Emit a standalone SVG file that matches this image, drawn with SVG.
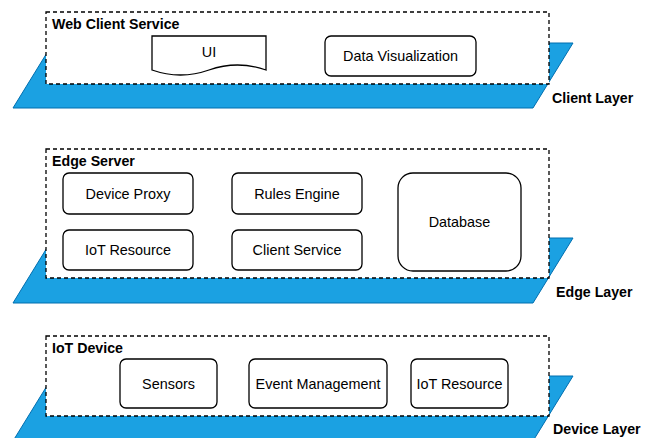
<svg xmlns="http://www.w3.org/2000/svg" width="655" height="438" viewBox="0 0 655 438">
  <style>
    .layer { fill: #1ba1e2; stroke: #006eaf; stroke-width: 1; }
    .group { fill: #ffffff; stroke: #000000; stroke-width: 1.3; stroke-dasharray: 4 3; }
    .node { fill: #ffffff; stroke: #000000; stroke-width: 1.3; }
    .label { font-family: "Liberation Sans", Arial, sans-serif; font-size: 14.4px; fill: #000000; text-anchor: middle; dominant-baseline: central; }
    .title { font-family: "Liberation Sans", Arial, sans-serif; font-size: 14.2px; font-weight: bold; fill: #000000; }
  </style>
  <rect width="655" height="438" fill="#ffffff"/>

  <!-- Client layer -->
  <g id="client-layer">
    <polygon class="layer" points="53,43 573,43 533,108 13,108"/>
    <text class="title" x="552" y="103">Client Layer</text>
  </g>
  <g id="web-client-service">
    <rect class="group" x="46" y="12" width="503" height="72"/>
    <text class="title" x="52" y="29">Web Client Service</text>
  </g>
  <g id="ui">
    <path class="node" d="M152,36 H266 V70 Q237.5,60 209,70 Q180.5,80 152,70 Z"/>
    <text class="label" x="209" y="52">UI</text>
  </g>
  <g id="data-visualization">
    <rect class="node" x="325" y="36" width="151" height="40" rx="6"/>
    <text class="label" x="400.5" y="56">Data Visualization</text>
  </g>

  <!-- Edge layer -->
  <g id="edge-layer">
    <polygon class="layer" points="53,238 573,238 533,303 13,303"/>
    <text class="title" x="556" y="297">Edge Layer</text>
  </g>
  <g id="edge-server">
    <rect class="group" x="46" y="149" width="503" height="129"/>
    <text class="title" x="52" y="166">Edge Server</text>
  </g>
  <g id="device-proxy">
    <rect class="node" x="63" y="173" width="130" height="41" rx="6"/>
    <text class="label" x="128" y="193.5">Device Proxy</text>
  </g>
  <g id="edge-iot-resource">
    <rect class="node" x="63" y="230" width="130" height="40" rx="6"/>
    <text class="label" x="128" y="250">IoT Resource</text>
  </g>
  <g id="rules-engine">
    <rect class="node" x="232" y="173" width="130" height="41" rx="6"/>
    <text class="label" x="297" y="193.5">Rules Engine</text>
  </g>
  <g id="client-service">
    <rect class="node" x="232" y="230" width="130" height="40" rx="6"/>
    <text class="label" x="297" y="250">Client Service</text>
  </g>
  <g id="database">
    <rect class="node" x="398" y="173" width="123" height="98" rx="15"/>
    <text class="label" x="459.5" y="222">Database</text>
  </g>

  <!-- Device layer -->
  <g id="device-layer">
    <polygon class="layer" points="53,376 573,376 533,441 13,441"/>
    <text class="title" x="553" y="434">Device Layer</text>
  </g>
  <g id="iot-device">
    <rect class="group" x="46" y="336" width="503" height="80"/>
    <text class="title" x="52" y="353">IoT Device</text>
  </g>
  <g id="sensors">
    <rect class="node" x="120" y="359" width="97" height="49" rx="6"/>
    <text class="label" x="168.5" y="383.5">Sensors</text>
  </g>
  <g id="event-management">
    <rect class="node" x="249" y="359" width="138" height="49" rx="6"/>
    <text class="label" x="318" y="383.5">Event Management</text>
  </g>
  <g id="device-iot-resource">
    <rect class="node" x="411" y="359" width="97" height="49" rx="6"/>
    <text class="label" x="459.5" y="383.5">IoT Resource</text>
  </g>

  <g id="connectors"/>
</svg>
